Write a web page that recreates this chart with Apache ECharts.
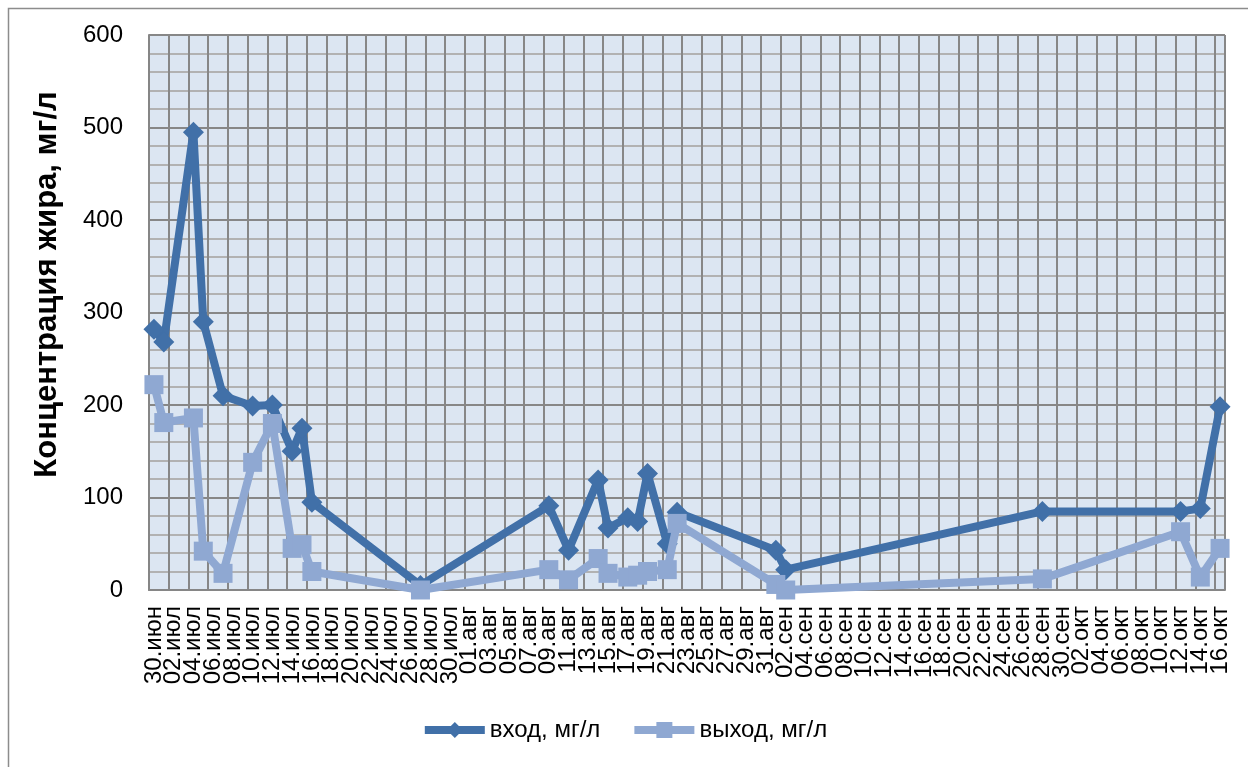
<!DOCTYPE html>
<html>
<head>
<meta charset="utf-8">
<script src="https://cdn.jsdelivr.net/npm/echarts@6/dist/echarts.min.js"></script>
<style>
  html, body { margin: 0; padding: 0; background: #fff; }
  #chart { width: 1248px; height: 767px; }
</style>
</head>
<body>
<div id="chart"></div>
<script>
// Sampling dates and fat concentration, mg/l
const sampleDates = ['30.июн', '01.июл', '04.июл', '05.июл', '07.июл', '10.июл', '12.июл', '14.июл', '15.июл', '16.июл',
  '27.июл', '09.авг', '11.авг', '14.авг', '15.авг', '17.авг', '18.авг', '19.авг', '21.авг', '22.авг',
  '01.сен', '02.сен', '28.сен', '12.окт', '14.окт', '16.окт'];
const inletValues = [282, 268, 495, 290, 210, 199, 200, 150, 175, 95,
  5, 91, 43, 119, 67, 78, 74, 126, 50, 84,
  43, 22, 85, 85, 88, 198];
const outletValues = [222, 181, 186, 42, 18, 138, 180, 45, 49, 20,
  0, 22, 11, 34, 18, 14, 16, 20, 22, 72,
  6, 0, 12, 63, 14, 45];

// Day-by-day axis from 30 June to 16 October
const monthNames = ['июн', 'июл', 'авг', 'сен', 'окт'];
const monthLengths = [30, 31, 31, 30, 31];
const axisStart = { month: 0, day: 30 };
const axisEnd = { month: 4, day: 16 };
const dayLabels = [];
for (let m = axisStart.month; m <= axisEnd.month; m++) {
  const first = m === axisStart.month ? axisStart.day : 1;
  const last = m === axisEnd.month ? axisEnd.day : monthLengths[m];
  for (let d = first; d <= last; d++) {
    dayLabels.push(String(d).padStart(2, '0') + '.' + monthNames[m]);
  }
}
const labelStep = 2; // every second day is labelled

const seriesNames = ['вход, мг/л', 'выход, мг/л'];
const yTicks = { min: 0, max: 600, step: 100 };

const FONT = '"Liberation Sans", Arial, sans-serif';
const darkBlue = '#4170A8';
const lightBlue = '#8FA8D2';

const chart = echarts.init(document.getElementById('chart'), null, { renderer: 'canvas' });
chart.setOption({
  backgroundColor: '#ffffff',
  animation: false,
  graphic: [{
    type: 'rect',
    left: 6, top: 6,
    shape: { width: 1260, height: 780 },
    style: { fill: 'none', stroke: '#8C8C8C', lineWidth: 1.5 },
    silent: true, z: -1
  }],
  grid: {
    left: 149, top: 35, right: 23, bottom: 177,
    show: true,
    backgroundColor: '#DCE6F2',
    borderWidth: 0
  },
  legend: {
    bottom: 20,
    left: 'center',
    itemWidth: 60,
    itemHeight: 20,
    itemGap: 30,
    lineStyle: { width: 8 },
    textStyle: { fontFamily: FONT, fontSize: 24, color: '#000' },
    data: seriesNames
  },
  xAxis: {
    type: 'category',
    data: dayLabels,
    boundaryGap: true,
    axisLine: { show: true, lineStyle: { color: '#868686', width: 2 } },
    axisTick: { show: false },
    axisLabel: {
      interval: 0,
      formatter: (value, index) => (index % labelStep === 0 ? value : ''),
      rotate: 90,
      margin: 16,
      fontFamily: FONT,
      fontSize: 24,
      color: '#000'
    },
    splitLine: { show: true, interval: labelStep - 1, lineStyle: { color: '#878787', width: 2 } }
  },
  yAxis: {
    type: 'value',
    min: yTicks.min,
    max: yTicks.max,
    interval: yTicks.step,
    name: 'Концентрация жира, мг/л',
    nameLocation: 'middle',
    nameRotate: 90,
    nameGap: 86,
    nameTextStyle: {
      fontFamily: FONT, fontSize: 31, fontWeight: 'bold', color: '#000',
      padding: [0, 0, 0, 56]
    },
    axisLine: { show: true, lineStyle: { color: '#868686', width: 2 } },
    axisTick: { show: false },
    axisLabel: { margin: 26, fontFamily: FONT, fontSize: 24, color: '#000' },
    splitLine: { show: true, lineStyle: { color: '#878787', width: 2 } },
    minorTick: { show: false, splitNumber: 5 },
    minorSplitLine: { show: true, lineStyle: { color: '#B2B2B2', width: 2 } }
  },
  series: [
    {
      name: seriesNames[0],
      type: 'line',
      data: sampleDates.map((d, i) => [d, inletValues[i]]),
      symbol: 'diamond',
      symbolSize: 21,
      showAllSymbol: true,
      lineStyle: { color: darkBlue, width: 8 },
      itemStyle: { color: darkBlue },
      z: 3
    },
    {
      name: seriesNames[1],
      type: 'line',
      data: sampleDates.map((d, i) => [d, outletValues[i]]),
      symbol: 'rect',
      symbolSize: 19,
      showAllSymbol: true,
      lineStyle: { color: lightBlue, width: 8 },
      itemStyle: { color: lightBlue },
      z: 4
    }
  ]
});
</script>
</body>
</html>
